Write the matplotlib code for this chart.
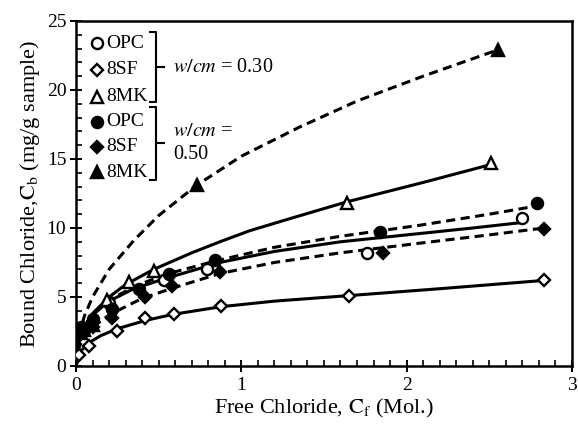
import matplotlib
matplotlib.use("Agg")
import matplotlib.pyplot as plt
from matplotlib.ticker import MultipleLocator

plt.rcParams['font.family'] = ['Liberation Serif', 'DejaVu Serif']
plt.rcParams['mathtext.fontset'] = 'stix'

# measured points
opc30_x = [0.05, 0.2, 0.53, 0.79, 1.76, 2.70]
opc30_y = [2.6, 4.6, 6.2, 7.0, 8.2, 10.7]
sf30_x = [0.02, 0.08, 0.25, 0.42, 0.59, 0.88, 1.65, 2.83]
sf30_y = [0.8, 1.45, 2.5, 3.45, 3.8, 4.35, 5.1, 6.2]
mk30_x = [0.05, 0.19, 0.32, 0.47, 1.64, 2.51]
mk30_y = [2.6, 4.8, 6.1, 6.9, 11.8, 14.7]
opc50_x = [0.03, 0.1, 0.22, 0.38, 0.56, 0.84, 1.84, 2.79]
opc50_y = [2.8, 3.4, 4.1, 5.6, 6.7, 7.7, 9.7, 11.8]
sf50_x = [0.03, 0.1, 0.22, 0.42, 0.58, 0.87, 1.86, 2.83]
sf50_y = [2.3, 2.8, 3.5, 5.0, 5.8, 6.8, 8.2, 9.9]
mk50_x = [0.03, 0.1, 0.73, 2.55]
mk50_y = [2.4, 3.0, 13.1, 22.9]

# fitted curves
mk50_fx = [0, 0.02, 0.05, 0.1, 0.2, 0.35, 0.5, 0.73, 1.0, 1.35, 1.7, 2.1, 2.55]
mk50_fy = [0, 2.2, 3.6, 5.0, 7.0, 9.1, 10.9, 13.1, 15.2, 17.3, 19.2, 21.0, 22.9]
mk30_fx = [0, 0.02, 0.05, 0.1, 0.2, 0.3, 0.47, 0.7, 0.87, 1.05, 1.3, 1.64, 2.1, 2.51]
mk30_fy = [0, 1.8, 2.8, 3.8, 5.0, 5.9, 7.0, 8.2, 9.0, 9.8, 10.7, 11.9, 13.3, 14.6]
opc50_fx = [0, 0.02, 0.05, 0.1, 0.2, 0.38, 0.56, 0.84, 1.2, 1.6, 2.08, 2.5, 2.79]
opc50_fy = [0, 2.0, 2.9, 3.7, 4.8, 5.9, 6.7, 7.6, 8.6, 9.4, 10.2, 11.0, 11.6]
opc30_fx = [0, 0.02, 0.05, 0.1, 0.2, 0.35, 0.53, 0.87, 1.2, 1.6, 2.08, 2.4, 2.70]
opc30_fy = [0, 2.0, 2.9, 3.7, 4.7, 5.6, 6.3, 7.5, 8.3, 9.0, 9.6, 10.0, 10.4]
sf50_fx = [0, 0.02, 0.05, 0.1, 0.2, 0.4, 0.6, 0.87, 1.2, 1.6, 2.08, 2.5, 2.83]
sf50_fy = [0, 1.4, 2.1, 2.8, 3.7, 4.9, 5.7, 6.7, 7.5, 8.2, 8.9, 9.5, 10.0]
sf30_fx = [0, 0.03, 0.08, 0.15, 0.25, 0.42, 0.59, 0.88, 1.2, 1.65, 2.2, 2.83]
sf30_fy = [0, 1.1, 1.7, 2.2, 2.7, 3.3, 3.75, 4.3, 4.7, 5.1, 5.6, 6.2]

fig = plt.figure(figsize=(5.78, 4.24), dpi=100)
ax = fig.add_axes([0.1315, 0.1368, 0.858, 0.8137])

lw = 2.2
dash = (0, (3, 1.8))
ax.plot(mk50_fx, mk50_fy, color='black', lw=lw, linestyle=dash)
ax.plot(mk30_fx, mk30_fy, color='black', lw=lw)
ax.plot(opc50_fx, opc50_fy, color='black', lw=lw, linestyle=dash)
ax.plot(opc30_fx, opc30_fy, color='black', lw=lw)
ax.plot(sf50_fx, sf50_fy, color='black', lw=lw, linestyle=dash)
ax.plot(sf30_fx, sf30_fy, color='black', lw=lw)

ms = 8
mew = 1.7
open_kw = dict(linestyle='none', mfc='white', mec='black', mew=mew, ms=ms, zorder=3)
fill_kw = dict(linestyle='none', mfc='black', mec='black', mew=mew, ms=ms, zorder=3)
ax.plot(opc30_x, opc30_y, marker='o', **open_kw)
ax.plot(sf30_x, sf30_y, marker='D', **dict(open_kw, ms=6.5))
ax.plot(mk30_x, mk30_y, marker='^', **open_kw)
ax.plot(opc50_x, opc50_y, marker='o', **fill_kw)
ax.plot(sf50_x, sf50_y, marker='D', **dict(fill_kw, ms=6.5))
ax.plot(mk50_x, mk50_y, marker='^', **fill_kw)

# legend drawn by hand
rows = [0.936, 0.858, 0.78, 0.708, 0.636, 0.562]
names = ['OPC', '8SF', '8MK', 'OPC', '8SF', '8MK']
marks = ['o', 'D', '^', 'o', 'D', '^']
for i, (r, n, m) in enumerate(zip(rows, names, marks)):
    face = 'white' if i < 3 else 'black'
    size = 6.5 if m == 'D' else 8
    ax.plot([0.042], [r], marker=m, mfc=face, mec='black', mew=1.7, ms=size,
            transform=ax.transAxes, linestyle='none')
    ax.text(0.06, r, n, transform=ax.transAxes, fontsize=14, va='center', ha='left')

def bracket(y0, y1):
    xb = 0.161
    ax.plot([xb - 0.011, xb, xb, xb - 0.011], [y0, y0, y1, y1], color='black',
            lw=1.5, transform=ax.transAxes)
    ym = (y0 + y1) / 2
    ax.plot([xb, xb + 0.016], [ym, ym], color='black', lw=1.5, transform=ax.transAxes)

bracket(0.968, 0.764)
bracket(0.752, 0.540)
ax.text(0.196, 0.864, '$w/cm$ = 0.30', transform=ax.transAxes, fontsize=14.5,
        va='center', ha='left')
ax.text(0.196, 0.68, '$w/cm$ =', transform=ax.transAxes, fontsize=14.5,
        va='center', ha='left')
ax.text(0.196, 0.612, '0.50', transform=ax.transAxes, fontsize=14.5,
        va='center', ha='left')

ax.set_xlim(0, 3)
ax.set_ylim(0, 25)
ax.xaxis.set_major_locator(MultipleLocator(1))
ax.xaxis.set_minor_locator(MultipleLocator(0.1))
ax.yaxis.set_major_locator(MultipleLocator(5))
ax.yaxis.set_minor_locator(MultipleLocator(1))
ax.tick_params(which='major', direction='inout', length=8, width=1.4, labelsize=14)
ax.tick_params(which='minor', direction='in', length=4, width=1.2)
ax.tick_params(axis='x', pad=4)
ax.tick_params(axis='y', pad=3)
for s in ax.spines.values():
    s.set_linewidth(1.8)

ax.set_xlabel('Free Chloride, $\\mathrm{C_f}$ (Mol.)', fontsize=16, labelpad=2)
ax.set_ylabel('Bound Chloride,$\\mathrm{C_b}$ (mg/g sample)', fontsize=16, labelpad=3)

fig.savefig('out.png', dpi=100)
